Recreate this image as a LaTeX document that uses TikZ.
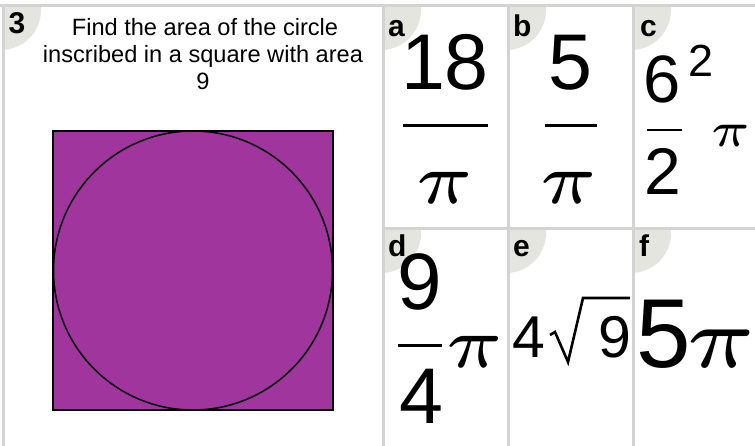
\documentclass[tikz,border=0pt]{standalone}
\usepackage{fontspec}
\setmainfont{Liberation Sans}
\definecolor{gridgray}{RGB}{211,211,211}
\definecolor{badge}{RGB}{229,229,223}
\definecolor{shade}{RGB}{160,53,158}
\newcommand{\bigpi}[1]{\fontsize{5}{5}\selectfont\scalebox{\fpeval{#1*2*0.88}}{$\pi$}}
\begin{document}
\begin{tikzpicture}[x=1pt,y=-1pt,
  gridline/.style={draw=gridgray,line width=3pt},
  lbl/.style={anchor=base west,inner sep=0pt,font=\fontsize{30}{30}\selectfont\bfseries},
  qtext/.style={anchor=base,inner sep=0pt,font=\fontsize{23.6}{27}\selectfont},
  num/.style={anchor=base,inner sep=0pt,font=\fontsize{#1}{#1}\selectfont},
  pinode/.style={anchor=base,inner sep=0pt},
  fbar/.style={line width=3pt},
]
\useasboundingbox[fill=white] (0,0) rectangle (755,446);
% badges
\foreach \l/\t/\r/\b in {5/7/382/446, 385/7/507/227, 510/7/632/227, 635/7/755/227, 385/230/507/446, 510/230/632/446, 635/230/755/446}{
  \begin{scope}
    \clip (\l,\t) rectangle (\r,\b);
    \fill[badge] (\l-4,\t+3) circle (40pt);
  \end{scope}
}
% grid lines
\draw[gridline] (0,5.5) -- (755,5.5);
\draw[gridline] (3.5,4) -- (3.5,446);
\draw[gridline] (383.5,4) -- (383.5,446);
\draw[gridline] (508.5,4) -- (508.5,446);
\draw[gridline] (633.5,4) -- (633.5,446);
\draw[gridline] (383,228.5) -- (755,228.5);
% labels
\node[lbl] (n3) at (8.5,33.5) {3};
\node[lbl] (la) at (388,37) {a};
\node[lbl] (lb) at (513,37) {b};
\node[lbl] (lc) at (640,37) {c};
\node[lbl] (ld) at (388,257) {d};
\node[lbl] (le) at (513,257) {e};
\node[lbl] (lf) at (639,257) {f};
% question
\node[qtext] (q1) at (205,36) {Find the area of the circle};
\node[qtext] (q2) at (203,63) {inscribed in a square with area};
\node[qtext] (q3) at (203,90) {9};
% figure
\filldraw[fill=shade,draw=black,line width=1.5pt] (53,131) rectangle (333,410);
\draw[black,line width=1.5pt] (193,270.5) circle (139.5pt);
% cell a
\node[num=79] (a1) at (445,90) {18};
\draw[fbar] (403,126) -- (488,126);
\node[pinode] (a2) at (445,204) {\bigpi{8.2}};
% cell b
\node[num=79] (b1) at (570,90) {5};
\draw[fbar] (545,126) -- (597,126);
\node[pinode] (b2) at (569,204) {\bigpi{8.2}};
% cell c
\node[num=67] (c1) at (662,103) {6};
\node[num=45] (c2) at (701,77) {2};
\draw[line width=2.5pt] (647,130) -- (682,130);
\node[num=66] (c3) at (663,195) {2};
\node[pinode] (c4) at (731,147) {\bigpi{5.6}};
% cell d
\node[num=80] (d1) at (420,310) {9};
\draw[fbar] (398,345) -- (442,345);
\node[num=79] (d2) at (421,423) {4};
\node[pinode] (d3) at (475,367) {\bigpi{8.2}};
% cell e
\node[num=59] (e1) at (529,357) {4};
\draw[line width=2.6pt,line join=miter] (550,335) -- (555,332) -- (568,362) -- (583,298) -- (630,298);
\node[num=59] (e2) at (615,357) {9};
% cell f
\node[num=98] (f1) at (664,367) {5};
\node[pinode] (f2) at (721,367) {\bigpi{9.9}};
\end{tikzpicture}
\end{document}
